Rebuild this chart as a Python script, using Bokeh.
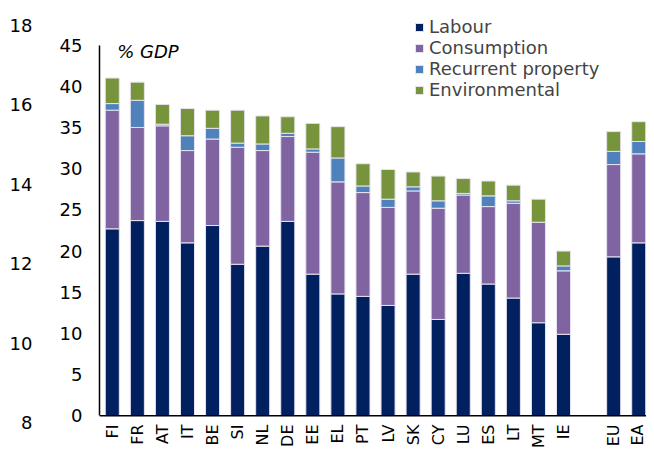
from bokeh.plotting import figure
from bokeh.models import (ColumnDataSource, Range1d, LinearAxis, FixedTicker,
                          Span, Label, Legend)
from bokeh.embed import file_html
from bokeh.resources import INLINE

countries = ["FI", "FR", "AT", "IT", "BE", "SI", "NL", "DE", "EE", "EL", "PT",
             "LV", "SK", "CY", "LU", "ES", "LT", "MT", "IE", "EU", "EA"]
labour = [22.7, 23.7, 23.6, 21.0, 23.1, 18.4, 20.6, 23.6, 17.2, 14.8, 14.5,
          13.4, 17.2, 11.7, 17.3, 16.0, 14.3, 11.3, 9.9, 19.3, 21.0]
consumption = [14.4, 11.3, 11.6, 11.2, 10.5, 14.2, 11.6, 10.3, 14.8, 13.6, 12.6,
               11.9, 10.1, 13.5, 9.5, 9.4, 11.5, 12.2, 7.7, 11.2, 10.8]
recurrent = [0.8, 3.3, 0.2, 1.8, 1.3, 0.5, 0.8, 0.4, 0.4, 2.9, 0.8,
             1.0, 0.5, 0.9, 0.2, 1.3, 0.3, 0.0, 0.6, 1.6, 1.5]
environmental = [3.1, 2.2, 2.4, 3.3, 2.2, 4.0, 3.4, 2.0, 3.1, 3.8, 2.7,
                 3.6, 1.8, 3.0, 1.8, 1.8, 1.9, 2.8, 1.8, 2.4, 2.4]
series_names = ["Labour", "Consumption", "Recurrent property", "Environmental"]
series_colors = ["#002060", "#8064A2", "#4F81BD", "#77933C"]
outer_ticks = [8, 10, 12, 14, 16, 18]
left_ticks = [0, 5, 10, 15, 20, 25, 30, 35, 40, 45]

# slot positions: 19 countries, one empty slot, then EU and EA
xpos = [i if i < 19 else i + 1 for i in range(len(countries))]

source = ColumnDataSource(dict(x=xpos, Labour=labour, Consumption=consumption,
                               Recurrent=recurrent, Environmental=environmental))

FONT = "DejaVu Sans"

p = figure(width=646, height=451, output_backend="svg", toolbar_location=None,
           x_range=Range1d(-0.51, 21.31), y_range=Range1d(-0.807, 48.349),
           min_border_left=99, min_border_right=0, min_border_top=17,
           min_border_bottom=26)
p.extra_y_ranges = {"outer": Range1d(8, 18.2)}
p.outline_line_color = None
p.xgrid.visible = False
p.ygrid.visible = False

renderers = p.vbar_stack(["Labour", "Consumption", "Recurrent", "Environmental"],
                         x="x", width=0.56, color=series_colors, source=source,
                         line_color="#E6E2EE", line_width=1)

legend = Legend(items=[(n, [r]) for n, r in zip(series_names, renderers)],
                location=(315, 322), glyph_width=10, glyph_height=10,
                label_text_font=FONT, label_text_font_size="18px",
                label_standoff=5, spacing=0, label_height=20, padding=0,
                margin=0, border_line_alpha=0, background_fill_alpha=0)
p.add_layout(legend, "center")

# x axis
xa = p.xaxis[0]
xa.ticker = FixedTicker(ticks=xpos)
xa.major_label_overrides = {x: c for x, c in zip(xpos, countries)}
xa.major_label_orientation = 3.14159265 / 2
xa.axis_line_color = None
xa.major_tick_line_color = None
xa.minor_tick_line_color = None
xa.major_tick_out = 0
xa.major_tick_in = 0
xa.major_label_standoff = 2
xa.major_label_text_font = FONT
xa.major_label_text_font_size = "16px"
xa.major_label_text_color = "#000000"

# primary y axis
ya = p.yaxis[0]
ya.ticker = FixedTicker(ticks=left_ticks)
ya.bounds = (0, 45)
ya.axis_line_color = "#000000"
ya.axis_line_width = 1.5
ya.major_tick_line_color = None
ya.minor_tick_line_color = None
ya.major_tick_out = 0
ya.major_tick_in = 0
ya.major_label_standoff = 17
ya.major_label_text_font = FONT
ya.major_label_text_font_size = "18px"
ya.major_label_text_color = "#000000"

# outer axis
oa = LinearAxis(y_range_name="outer", ticker=FixedTicker(ticks=outer_ticks))
oa.axis_line_color = None
oa.major_tick_line_color = None
oa.minor_tick_line_color = None
oa.major_tick_out = 0
oa.major_tick_in = 0
oa.major_label_standoff = 24
oa.major_label_text_font = FONT
oa.major_label_text_font_size = "18px"
oa.major_label_text_color = "#000000"
p.add_layout(oa, "left")

p.add_layout(Span(location=0, dimension="width", line_color="#000000",
                  line_width=1.5))

p.add_layout(Label(x=0.196, y=44.19, text="% GDP", text_font=FONT,
                   text_font_size="18px", text_font_style="italic",
                   text_baseline="alphabetic", text_color="#000000"))

open("out.html", "w").write(file_html(p, INLINE))
